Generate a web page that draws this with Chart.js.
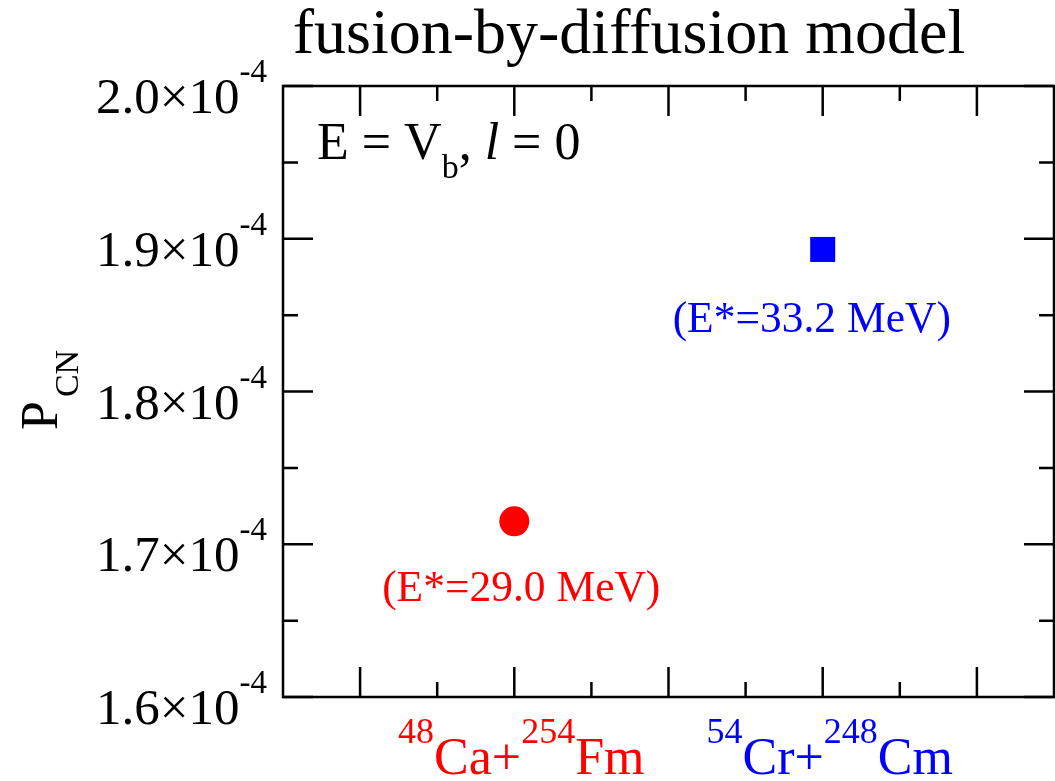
<!DOCTYPE html>
<html>
<head>
<meta charset="utf-8">
<script src="https://cdn.jsdelivr.net/npm/chart.js@4.4.1/dist/chart.umd.min.js"></script>
<style>
  html, body { margin: 0; padding: 0; background: #fff; }
  canvas { display: block; }
</style>
</head>
<body>
<canvas id="pcnChart" width="1055" height="781"></canvas>
<script>
// reactions, written with ^{..} for superscripts
const reactions = ['^{48}Ca+^{254}Fm', '^{54}Cr+^{248}Cm'];
const reactionX = [1, 3];
const pcnValues = [1.715e-4, 1.893e-4];
const excitation = ['(E*=29.0 MeV)', '(E*=33.2 MeV)'];
const seriesColors = ['#ff0000', '#0000ff'];
const seriesShapes = ['circle', 'rect'];

const yMajorTicks = [1.6e-4, 1.7e-4, 1.8e-4, 1.9e-4, 2.0e-4];
const yTickLabels = ['1.6', '1.7', '1.8', '1.9', '2.0'];
const yMinorTicks = [1.65e-4, 1.75e-4, 1.85e-4, 1.95e-4];
const xMajorTicks = [0, 1, 2, 3, 4];
const xMinorTicks = [0.5, 1.5, 2.5, 3.5];

const FONT = '"Liberation Serif", "Times New Roman", serif';

// draw a string with ^{sup} parts, left aligned at x, baseline y
function richText(ctx, str, x, y, size, supSize, measureOnly) {
    const parts = str.split(/\^\{([^}]*)\}/);
    let cx = x;
    parts.forEach((p, i) => {
        if (!p) return;
        const sup = i % 2 === 1;
        ctx.font = (sup ? supSize : size) + 'px ' + FONT;
        if (!measureOnly) ctx.fillText(p, cx, sup ? y - 31 : y);
        cx += ctx.measureText(p).width;
    });
    return cx - x;
}

const framePlugin = {
    id: 'grace',
    afterDraw(chart) {
        const ctx = chart.ctx;
        const a = chart.chartArea;
        const xs = chart.scales.x, ys = chart.scales.y;
        ctx.save();
        ctx.strokeStyle = '#000';
        ctx.lineWidth = 2.5;
        ctx.strokeRect(a.left, a.top, a.right - a.left, a.bottom - a.top);

        ctx.beginPath();
        const tick = (vals, len, axis) => vals.forEach(v => {
            if (axis === 'x') {
                const px = xs.getPixelForValue(v);
                ctx.moveTo(px, a.bottom); ctx.lineTo(px, a.bottom - len);
                ctx.moveTo(px, a.top); ctx.lineTo(px, a.top + len);
            } else {
                const py = ys.getPixelForValue(v);
                ctx.moveTo(a.left, py); ctx.lineTo(a.left + len, py);
                ctx.moveTo(a.right, py); ctx.lineTo(a.right - len, py);
            }
        });
        tick(xMajorTicks, 30, 'x');
        tick(xMinorTicks, 15, 'x');
        tick(yMajorTicks, 30, 'y');
        tick(yMinorTicks, 15, 'y');
        ctx.stroke();

        // y tick labels: 1.9x10^-4
        ctx.fillStyle = '#000';
        ctx.textBaseline = 'alphabetic';
        ctx.textAlign = 'left';
        yMajorTicks.forEach((v, i) => {
            const py = ys.getPixelForValue(v);
            const s = yTickLabels[i] + '\u00d710^{-4}';
            const w = richText(ctx, s, 0, 0, 51, 33, true);
            richText(ctx, s, 267 - w, py + 27, 51, 33);
        });

        // x category labels
        reactions.forEach((r, i) => {
            ctx.fillStyle = seriesColors[i];
            const w = richText(ctx, r, 0, 0, 52, 36, true);
            const cx = xs.getPixelForValue(reactionX[i]) + 7;
            richText(ctx, r, cx - w / 2, 774, 52, 36);
        });

        // excitation energy notes
        const noteAnchors = [[1.045, 1.6628e-4], [2.929, 1.839e-4]];
        ctx.font = '43.5px ' + FONT;
        ctx.textAlign = 'center';
        excitation.forEach((t, i) => {
            ctx.fillStyle = seriesColors[i];
            ctx.fillText(t, xs.getPixelForValue(noteAnchors[i][0]), ys.getPixelForValue(noteAnchors[i][1]));
        });

        // legend-like text: E = V_b, l = 0
        ctx.fillStyle = '#000';
        ctx.textAlign = 'left';
        let tx = 317;
        const ty = 159;
        ctx.font = '52px ' + FONT;
        ctx.fillText('E = V', tx, ty); tx += ctx.measureText('E = V').width;
        ctx.font = '34px ' + FONT;
        ctx.fillText('b', tx, ty + 19); tx += ctx.measureText('b').width;
        ctx.font = '52px ' + FONT;
        ctx.fillText(', ', tx, ty); tx += ctx.measureText(', ').width;
        ctx.font = 'italic 52px ' + FONT;
        ctx.fillText('l', tx, ty); tx += ctx.measureText('l').width;
        ctx.font = '52px ' + FONT;
        ctx.fillText(' = 0', tx, ty);

        // title
        ctx.font = '64px ' + FONT;
        ctx.textAlign = 'center';
        ctx.fillText('fusion-by-diffusion model', 629, 53);

        // y axis title P_CN
        ctx.save();
        ctx.translate(57, 430);
        ctx.rotate(-Math.PI / 2);
        ctx.textAlign = 'left';
        ctx.font = '52px ' + FONT;
        ctx.fillText('P', 0, 0);
        const pw = ctx.measureText('P').width;
        ctx.font = '34px ' + FONT;
        ctx.fillText('CN', pw + 4, 21);
        ctx.restore();

        ctx.restore();
    }
};

const datasets = reactions.map((r, i) => ({
    label: r,
    data: [{ x: reactionX[i], y: pcnValues[i] }],
    pointStyle: seriesShapes[i],
    pointRadius: seriesShapes[i] === 'rect' ? 17.7 : 15,
    pointHoverRadius: seriesShapes[i] === 'rect' ? 17.7 : 15,
    backgroundColor: seriesColors[i],
    borderColor: seriesColors[i],
    borderWidth: 0
}));

new Chart(document.getElementById('pcnChart'), {
    type: 'scatter',
    data: { datasets },
    options: {
        responsive: false,
        devicePixelRatio: 1,
        animation: false,
        layout: { autoPadding: false, padding: { left: 283, top: 86, right: 1, bottom: 84 } },
        scales: {
            x: { type: 'linear', min: -0.5, max: 4.5, display: false },
            y: { type: 'linear', min: 1.6e-4, max: 2.0e-4, display: false }
        },
        plugins: { legend: { display: false }, tooltip: { enabled: false } }
    },
    plugins: [framePlugin]
});
</script>
</body>
</html>
